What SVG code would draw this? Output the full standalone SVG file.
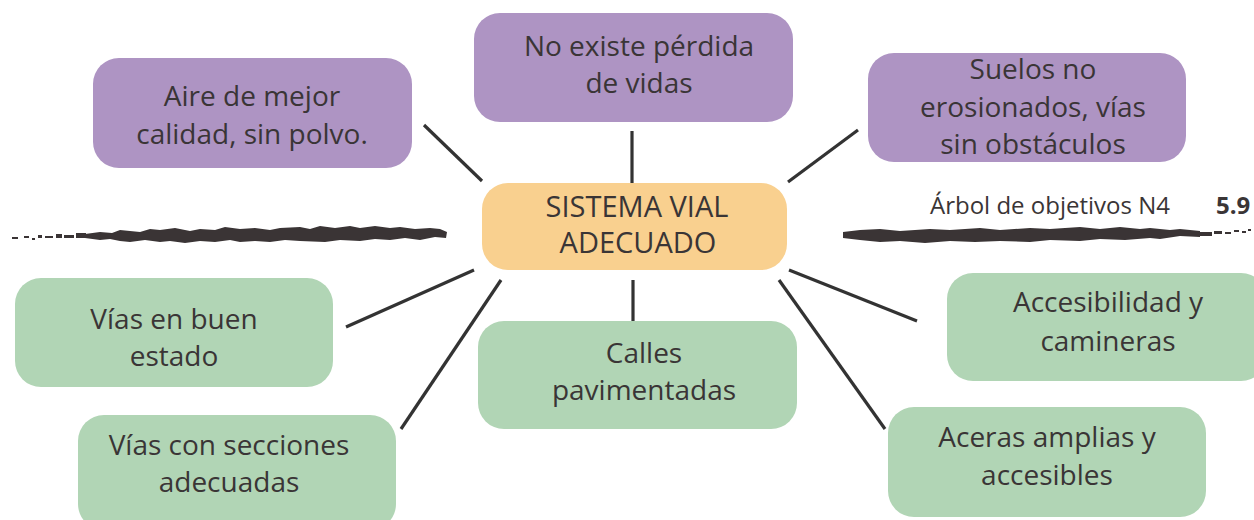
<svg xmlns="http://www.w3.org/2000/svg" width="1254" height="520" viewBox="0 0 1254 520">
<style>
.p{fill:#ae94c3}
.g{fill:#b1d5b5}
.c{fill:#f9d08f}
text{font-family:"Open Sans","Noto Sans",sans-serif;fill:#3a3536;text-anchor:middle}
.t{font-size:28px}
.tc{font-size:29px}
.h{font-size:24px;text-anchor:start}
.b{font-size:24px;font-weight:bold;text-anchor:start}
.ln{stroke:#333;stroke-width:3.2;fill:none;stroke-linecap:butt}
.br{fill:#3a3435}
</style>
<g id="brush">
<path class="br" d="M85 234 L100 232 L112 233 L120 230 L140 232 L150 229 L160 230 L175 228 L190 231 L200 229 L215 230 L225 227 L240 229 L255 228 L270 230 L280 228 L300 227 L310 229 L320 226 L335 228 L350 226 L360 228 L375 226 L390 228 L400 227 L415 229 L430 228 L440 229 L447 232 L446 238 L435 237 L420 240 L405 238 L390 240 L375 239 L360 241 L340 240 L325 242 L300 241 L285 240 L270 242 L255 241 L240 242 L230 240 L215 242 L200 241 L185 243 L170 241 L160 242 L145 240 L130 242 L120 241 L110 239 L100 240 L85 238 Z"/>
<path class="br" d="M12 237 h6 v2 h-6z M24 236 h5 v2 h-5z M32 238 h3 v2 h-3z M38 235 h4 v3 h-4z M45 236 h8 v2 h-8z M56 234 h6 v4 h-6z M64 235 h10 v3 h-10z M76 233 h10 v5 h-10z"/>
<path class="br" d="M843 232 L860 230 L880 229 L900 231 L930 229 L950 230 L980 228 L1000 230 L1030 228 L1050 229 L1080 227 L1100 229 L1120 227 L1140 229 L1150 228 L1170 230 L1180 229 L1200 231 L1200 237 L1180 236 L1160 239 L1150 238 L1125 240 L1100 239 L1080 241 L1050 240 L1030 242 L1000 241 L975 242 L950 241 L925 243 L900 241 L880 242 L860 240 L843 238 Z"/>
<path class="br" d="M1198 232 h14 v4 h-14z M1214 231 h8 v3 h-8z M1225 232 h6 v2 h-6z M1234 230 h5 v2 h-5z M1242 231 h4 v2 h-4z M1248 229 h3 v2 h-3z"/>
</g>
<g id="header">
<text class="h" x="930" y="214">Árbol de objetivos N4</text>
<text class="b" x="1216" y="214">5.9</text>
</g>
<g id="connectors">
<line class="ln" x1="424" y1="125" x2="482" y2="181"/>
<line class="ln" x1="632" y1="131" x2="632" y2="183"/>
<line class="ln" x1="858" y1="130" x2="788" y2="182"/>
<line class="ln" x1="474" y1="270" x2="346" y2="327"/>
<line class="ln" x1="501" y1="280" x2="401" y2="429"/>
<line class="ln" x1="633" y1="280" x2="633" y2="321"/>
<line class="ln" x1="789" y1="270" x2="917" y2="321"/>
<line class="ln" x1="779" y1="280" x2="885" y2="429"/>
</g>
<g id="center">
<rect class="c" x="482" y="183" width="305" height="87" rx="26"/>
<text class="tc" x="637" y="217">SISTEMA VIAL</text>
<text class="tc" x="638" y="253">ADECUADO</text>
</g>
<g id="aire">
<rect class="p" x="93" y="58" width="319" height="110" rx="26"/>
<text class="t" x="252" y="106">Aire de mejor</text>
<text class="t" x="252" y="144">calidad, sin polvo.</text>
</g>
<g id="vidas">
<rect class="p" x="474" y="13" width="319" height="109" rx="26"/>
<text class="t" x="639" y="56">No existe pérdida</text>
<text class="t" x="639" y="93">de vidas</text>
</g>
<g id="suelos">
<rect class="p" x="868" y="53" width="318" height="109" rx="26"/>
<text class="t" x="1033" y="79">Suelos no</text>
<text class="t" x="1033" y="117">erosionados, vías</text>
<text class="t" x="1033" y="154">sin obstáculos</text>
</g>
<g id="buen-estado">
<rect class="g" x="15" y="278" width="318" height="109" rx="26"/>
<text class="t" x="174" y="329">Vías en buen</text>
<text class="t" x="174" y="366">estado</text>
</g>
<g id="secciones">
<rect class="g" x="78" y="415" width="318" height="115" rx="26"/>
<text class="t" x="229" y="455">Vías con secciones</text>
<text class="t" x="229" y="492">adecuadas</text>
</g>
<g id="calles">
<rect class="g" x="478" y="321" width="319" height="108" rx="26"/>
<text class="t" x="644" y="363">Calles</text>
<text class="t" x="644" y="400">pavimentadas</text>
</g>
<g id="accesibilidad">
<rect class="g" x="947" y="273" width="320" height="108" rx="26"/>
<text class="t" x="1108" y="312">Accesibilidad y</text>
<text class="t" x="1108" y="351">camineras</text>
</g>
<g id="aceras">
<rect class="g" x="888" y="407" width="318" height="110" rx="26"/>
<text class="t" x="1047" y="447">Aceras amplias y</text>
<text class="t" x="1047" y="485">accesibles</text>
</g>
</svg>
